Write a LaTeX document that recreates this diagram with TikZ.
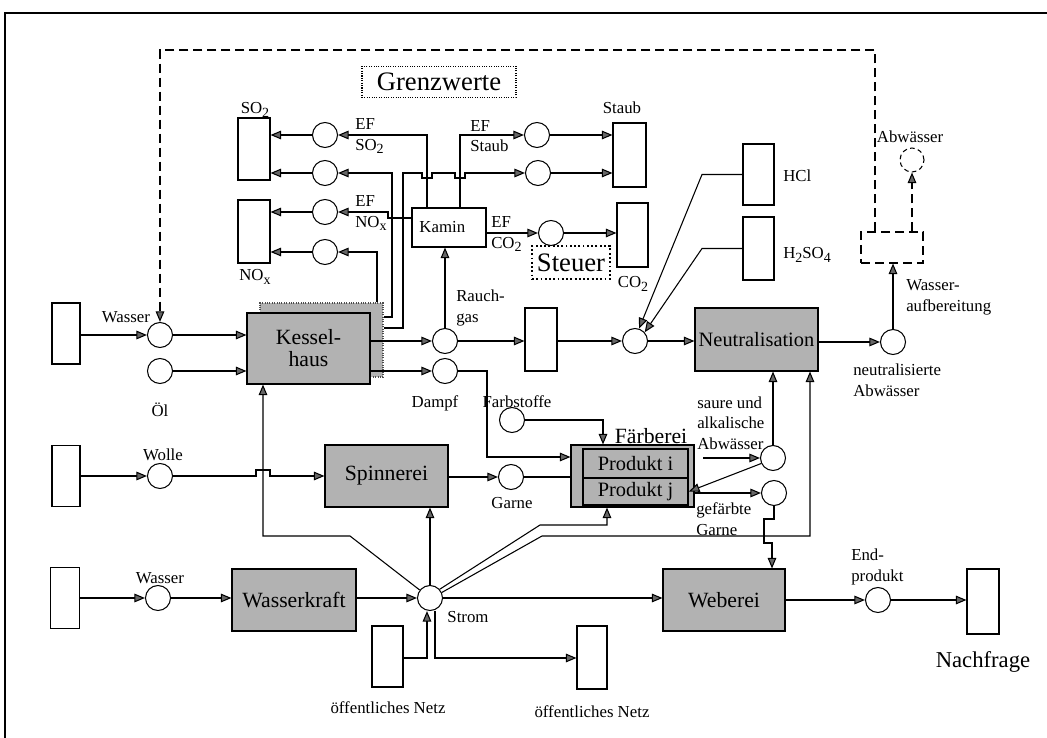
\documentclass[tikz,border=0pt]{standalone}
\usepackage{fontspec}
\setmainfont{Liberation Serif}
\usetikzlibrary{arrows.meta}
\newcommand\fsm{\fontsize{12.6}{15.5}\selectfont}
\newcommand\flg{\fontsize{16.3}{16.5}\selectfont}
\newcommand\fmd{\fontsize{15.3}{16}\selectfont}
\newcommand\fxl{\fontsize{20}{22}\selectfont}
\newcommand\sbs[1]{\raisebox{-0.45ex}{\fontsize{10.5}{11}\selectfont #1}}
\begin{document}
\begin{tikzpicture}[x=0.75pt,y=-0.75pt,
  ln/.style={line width=0.8pt},
  arr/.style={ln,-{Triangle[length=8pt,width=6.5pt,fill=black!60]}},
  dsh/.style={dash pattern=on 7pt off 3.5pt},
  circ/.style={circle,draw,ln,minimum size=18.75pt,inner sep=0pt,fill=white},
  bx/.style 2 args={draw,ln,minimum width=#1*0.75pt,minimum height=#2*0.75pt,inner sep=0pt,fill=white},
  proc/.style={fill=black!30},
  lbl/.style={font=\fsm,inner sep=0pt,align=left},
  big/.style={font=\flg,inner sep=0pt,align=center},
]
\useasboundingbox (0,0) rectangle (1047,738);
\draw[line width=0.9pt] (5,738) -- (5,13) -- (1047,13);

% ---------- nodes: top section
\node[bx={154}{31},densely dotted,font=\fxl] (grenz) at (439,82) {Grenzwerte};
\node[bx={32}{62}] (so2b) at (254,149) {};
\node[bx={32}{63}] (noxb) at (254,231.5) {};
\node[circ] (c1) at (325,135) {};
\node[circ] (c2) at (325,173) {};
\node[circ] (c3) at (325,212) {};
\node[circ] (c4) at (325,252) {};
\node[bx={74}{39},font=\fsm] (kam) at (449,227.5) {\hspace*{-10pt}Kamin};
\node[circ] (sc1) at (537,135) {};
\node[circ] (sc2) at (538,173) {};
\node[bx={33}{64}] (stb) at (629.5,155) {};
\node[circ] (cco2) at (551,233) {};
\node[bx={31}{64}] (co2b) at (632.5,235) {};
\node[bx={78}{33},dash pattern=on 1.4pt off 1.8pt,line width=1pt,font=\fxl] (steu) at (571,262.5) {Steuer};
\node[bx={31}{61}] (hcl) at (758.5,174.5) {};
\node[bx={31}{63}] (h2so4) at (758.5,248.5) {};

% ---------- row 1
\node[bx={28}{61}] (sw1) at (66,333.5) {};
\node[circ] (cw) at (160,335) {};
\node[circ] (coel) at (160,371) {};
\node[draw=black!70,densely dotted,ln,fill=black!30,minimum width=123*0.75pt,minimum height=74*0.75pt,inner sep=0pt] (ksh) at (321.5,340) {};
\node[bx={123}{71},proc,font=\flg,align=center] (kes) at (308.5,348.5) {Kessel-\\haus};
\node[circ] (crg) at (445,341) {};
\node[circ] (cdp) at (445,371) {};
\node[bx={32}{63}] (rgb) at (541,339.5) {};
\node[circ] (cne) at (635,341) {};
\node[bx={123}{63},proc,font=\fmd] (neu) at (756.5,339.5) {Neutralisation};
\node[circ] (cna) at (893,342) {};
\node[bx={62}{31},dsh,fill=none] (wab) at (892,247.5) {};
\node[circle,draw,ln,dash pattern=on 3.5pt off 2.5pt,minimum size=18pt,inner sep=0pt] (cab) at (912,160) {};

% ---------- row 2
\node[bx={28}{61}] (swo) at (66,476) {};
\node[circ] (cwo) at (160,476) {};
\node[bx={123}{62},proc,font=\flg] (spin) at (386.5,476) {Spinnerei};
\node[circ] (cga) at (511,477) {};
\node[circ] (cfa) at (512,420) {};
\node[bx={123}{62},proc] (fb) at (632.5,476) {};
\node[bx={105}{29},proc,line width=1.3pt,font=\fmd] (pi) at (635.5,463.5) {Produkt i};
\node[bx={105}{27},proc,line width=1.3pt,font=\fmd] (pj) at (635.5,491.5) {Produkt j};
\node[circ] (csa) at (773,458) {};
\node[circ] (cgf) at (774,493) {};

% ---------- row 3
\node[bx={29}{61}] (sw2) at (65,598) {};
\node[circ] (cw2) at (158,598) {};
\node[bx={124}{62},proc,font=\flg] (wk) at (294,600) {Wasserkraft};
\node[circ] (cst) at (430,598) {};
\node[bx={31}{61}] (nt1) at (387.5,656.5) {};
\node[bx={30}{63}] (nt2) at (592,657.5) {};
\node[bx={122}{62},proc,font=\flg] (web) at (724,600) {Weberei};
\node[circ] (cen) at (878,600) {};
\node[bx={32}{65}] (nf) at (983,601.5) {};

% ---------- labels
\node[lbl] (lso2) at (255,110) {SO\sbs{2}};
\node[lbl] (lstaub) at (622,108) {Staub};
\node[lbl] (lnox) at (255,277) {NO\sbs{x}};
\node[lbl] (lco2) at (633,284) {CO\sbs{2}};
\node[lbl,anchor=west] (lhcl) at (783,176) {HCl};
\node[lbl,anchor=west] (lh2) at (783,255) {H\sbs{2}SO\sbs{4}};
\node[lbl,anchor=west] (lef1) at (355,136) {EF\\SO\sbs{2}};
\node[lbl,anchor=west] (lef2) at (355,213) {EF\\NO\sbs{x}};
\node[lbl,anchor=west] (lef3) at (470,136) {EF\\Staub};
\node[lbl,anchor=west] (lef4) at (491,234) {EF\\CO\sbs{2}};
\node[lbl,anchor=west] (lrg) at (456,308) {Rauch-\\gas};
\node[lbl] (lwas) at (126,317) {Wasser};
\node[lbl] (loel) at (160,410) {Öl};
\node[lbl] (lwol) at (163,455) {Wolle};
\node[lbl] (ldp) at (435,403) {Dampf};
\node[lbl] (lfa) at (517,402) {Farbstoffe};
\node[big] (lfb) at (651,436) {Färberei};
\node[lbl,anchor=west] (lsa) at (697,423) {saure und\\alkalische\\Abwässer};
\node[lbl,anchor=west] (lgf) at (696,519) {gefärbte\\Garne};
\node[lbl] (lga) at (512,503) {Garne};
\node[lbl] (lwas2) at (160,578) {Wasser};
\node[lbl] (lst) at (468,617) {Strom};
\node[lbl] (lnt1) at (388,708) {öffentliches Netz};
\node[lbl] (lnt2) at (592,712) {öffentliches Netz};
\node[lbl,anchor=west] (lend) at (851,567) {End-\\produkt};
\node[big,font=\fontsize{17}{18}\selectfont] (lnf) at (983,662) {Nachfrage};
\node[lbl,anchor=west] (lwab) at (906,297) {Wasser-\\aufbereitung};
\node[lbl,anchor=west] (lna) at (853,380) {neutralisierte\\Abwässer};
\node[lbl] (lab) at (910,137) {Abwässer};

% ---------- connectors: top
\coordinate (dl) at (875,50);
\draw[ln,dsh,-{Triangle[length=8pt,width=6.5pt,fill=black!60]}] (dl |- wab.north) -- (dl) -- (dl -| cw) -- (cw);
\draw[ln,dsh,-{Triangle[length=8pt,width=6.5pt,fill=black!60]}] (cab |- wab.north) -- (cab);
\draw[arr] (cna) -- (cna |- wab.south);

\draw[arr] (c1) -- (c1 -| so2b.east);
\draw[arr] (c2) -- (c2 -| so2b.east);
\draw[arr] (c3) -- (c3 -| noxb.east);
\draw[arr] (c4) -- (c4 -| noxb.east);
\draw[arr] (sc1) -- (sc1 -| stb.west);
\draw[arr] (sc2) -- (sc2 -| stb.west);
\draw[arr] (kam.east |- cco2) -- (cco2);
\draw[arr] (cco2) -- (cco2 -| co2b.west);

\coordinate (kx1) at (427,135);
\coordinate (kx2) at (460,135);
\draw[arr] (kx1 |- kam.north) -- (kx1) -- (c1);
\draw[arr] (kx2 |- kam.north) -- (kx2) -- (sc1);
\coordinate (r3) at (388,218);
\draw[arr] (kam.west |- r3) -- (r3) -- (r3 |- c3) -- (c3);
\coordinate (v4) at (377,252);
\draw[arr] (v4 |- ksh.north) -- (v4) -- (c4);
\coordinate (k2) at (392,317);
\draw[arr] (ksh.east |- k2) -- (k2) -- (k2 |- c2) -- (c2);
\coordinate (k3) at (403,328);
\draw[arr] (ksh.east |- k3) -- (k3) -- (403,173) -- (422,173) -- (422,178) -- (432,178) -- (432,173)
  -- (455,173) -- (455,178) -- (465,178) -- (465,173) -- (sc2);

\draw[arr] (hcl.west) -- (702,174.5) -- (cne.72);
\draw[arr] (h2so4.west) -- (702,248.5) -- (cne.42);

% ---------- connectors: row 1
\draw[arr] (sw1.east |- cw) -- (cw);
\draw[arr] (cw) -- (cw -| kes.west);
\draw[arr] (coel) -- (coel -| kes.west);
\draw[arr] (kes.east |- crg) -- (crg);
\draw[arr] (kes.east |- cdp) -- (cdp);
\draw[arr] (crg) -- (crg |- kam.south);
\draw[arr] (crg) -- (crg -| rgb.west);
\draw[arr] (rgb.east |- cne) -- (cne);
\draw[arr] (cne) -- (cne -| neu.west);
\draw[arr] (neu.east |- cna) -- (cna);

% ---------- connectors: row 2
\draw[arr] (swo.east |- cwo) -- (cwo);
\draw[arr] (cwo) -- (256,476) -- (256,470) -- (270,470) -- (270,476) -- (spin.west |- cwo);
\draw[arr] (spin.east |- cga) -- (cga);
\draw[ln] (cga) -- (cga -| fb.west);
\coordinate (dp) at (487,371);
\coordinate (dp2) at (487,457);
\draw[arr] (cdp) -- (dp) -- (dp2) -- (dp2 -| fb.west);
\coordinate (fp) at (603,420);
\draw[arr] (cfa) -- (fp) -- (fp |- fb.north);
\coordinate (sf) at (703,458);
\draw[arr] (sf) -- (csa);
\draw[arr] (csa) -- (csa |- neu.south);
\draw[arr] (csa.205) -- (pj.east);
\draw[arr] (fb.east |- cgf) -- (cgf);
\coordinate (g1) at (774,519);
\coordinate (g2) at (764,519);
\coordinate (g3) at (764,543);
\coordinate (g4) at (772,543);
\draw[arr] (cgf) -- (g1) -- (g2) -- (g3) -- (g4) -- (g4 |- web.north);

% ---------- connectors: row 3
\draw[arr] (sw2.east |- cw2) -- (cw2);
\draw[arr] (cw2) -- (cw2 -| wk.west);
\draw[arr] (wk.east |- cst) -- (cst);
\draw[arr] (cst) -- (cst |- spin.south);
\coordinate (s1) at (350,536);
\coordinate (s2) at (263,536);
\draw[arr] (cst) -- (s1) -- (s2) -- (s2 |- kes.south);
\coordinate (a1) at (540,525);
\coordinate (a2) at (607,525);
\draw[arr] (cst.42) -- (a1) -- (a2) -- (a2 |- fb.south);
\coordinate (b1) at (542,536);
\coordinate (b2) at (810,536);
\draw[arr] (cst.25) -- (b1) -- (b2) -- (b2 |- neu.south);
\coordinate (n1) at (427,658);
\draw[arr] (nt1.east |- n1) -- (n1) -- (n1 |- cst.south);
\coordinate (n2) at (435,658);
\draw[arr] (n2 |- cst.south) -- (n2) -- (n2 -| nt2.west);
\draw[arr] (cst) -- (cst -| web.west);
\draw[arr] (web.east |- cen) -- (cen);
\draw[arr] (cen) -- (cen -| nf.west);
\end{tikzpicture}
\end{document}
